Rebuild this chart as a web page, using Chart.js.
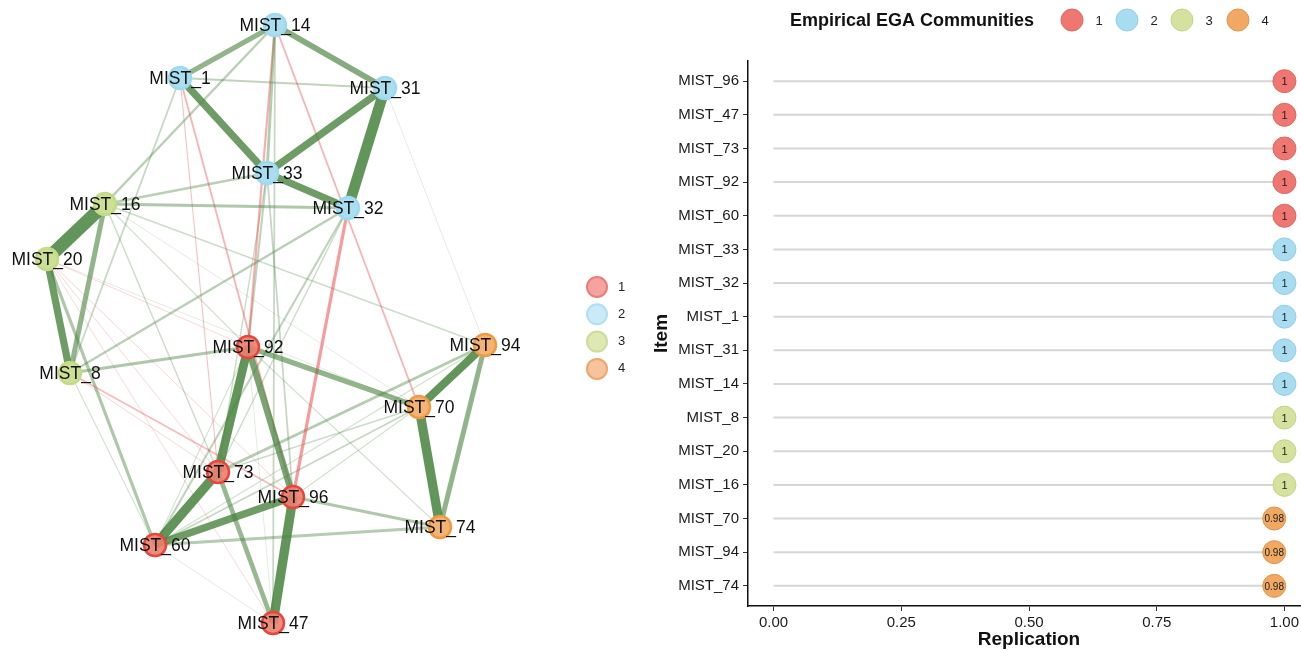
<!DOCTYPE html>
<html>
<head>
<meta charset="utf-8">
<script src="https://cdn.jsdelivr.net/npm/chart.js@4.4.1/dist/chart.umd.min.js"></script>
<style>
html, body { margin:0; padding:0; background:#fff; overflow:hidden; width:1301px; height:650px; }
#net { position:absolute; left:0; top:0; }
#rep { position:absolute; left:650px; top:0; }
</style>
</head>
<body>
<canvas id="net" width="650" height="650"></canvas>
<canvas id="rep" width="670" height="650"></canvas>
<script>
// ---- network (left) ----
const nodeNames = ['MIST_14','MIST_1','MIST_31','MIST_33','MIST_32','MIST_16','MIST_20','MIST_8',
                   'MIST_92','MIST_94','MIST_70','MIST_73','MIST_96','MIST_74','MIST_60','MIST_47'];
const nodeX = [275,180,385,267,348,105,47,70,248,485,419,218,293,440,155,273];
const nodeY = [25,78,88,173,208,204,259,373,347,345,407,472,497,527,545,623];
const nodeComm = [2,2,2,2,2,3,3,3,1,4,4,1,1,4,1,1];

const edgeFrom = [
  'MIST_14','MIST_14','MIST_1','MIST_33','MIST_31','MIST_33','MIST_16','MIST_20','MIST_16','MIST_92',
  'MIST_92','MIST_73','MIST_96','MIST_96','MIST_73','MIST_94','MIST_70','MIST_94','MIST_92','MIST_96',
  'MIST_60','MIST_8','MIST_16','MIST_16','MIST_14','MIST_1','MIST_14','MIST_14','MIST_14','MIST_32',
  'MIST_1','MIST_1','MIST_8','MIST_31','MIST_16','MIST_8','MIST_32','MIST_1','MIST_20','MIST_94',
  'MIST_70','MIST_70','MIST_14','MIST_33','MIST_33','MIST_33','MIST_60','MIST_20','MIST_20','MIST_20',
  'MIST_20','MIST_20','MIST_16','MIST_16','MIST_92','MIST_94','MIST_96','MIST_92','MIST_32','MIST_16',
  'MIST_8','MIST_8','MIST_92'];
const edgeTo = [
  'MIST_31','MIST_1','MIST_33','MIST_31','MIST_32','MIST_32','MIST_20','MIST_8','MIST_8','MIST_73',
  'MIST_96','MIST_60','MIST_60','MIST_47','MIST_47','MIST_70','MIST_74','MIST_74','MIST_70','MIST_74',
  'MIST_74','MIST_92','MIST_32','MIST_33','MIST_16','MIST_31','MIST_33','MIST_92','MIST_70','MIST_96',
  'MIST_96','MIST_73','MIST_96','MIST_94','MIST_94','MIST_32','MIST_60','MIST_8','MIST_60','MIST_73',
  'MIST_60','MIST_73','MIST_47','MIST_92','MIST_73','MIST_96','MIST_47','MIST_92','MIST_73','MIST_96',
  'MIST_70','MIST_47','MIST_73','MIST_70','MIST_74','MIST_60','MIST_70','MIST_60','MIST_73','MIST_92',
  'MIST_73','MIST_60','MIST_47'];
const edgeWeight = [
  0.16,0.14,0.20,0.20,0.30,0.20,0.36,0.20,0.14,0.24,
  0.18,0.26,0.20,0.26,0.13,0.22,0.26,0.14,0.14,0.09,
  0.08,0.09,0.09,0.07,0.07,0.06,0.08,-0.06,-0.05,-0.09,
  -0.05,-0.03,-0.04,0.02,0.04,0.07,0.06,0.05,0.09,0.08,
  0.05,0.04,0.05,0.06,0.04,0.05,0.02,-0.02,-0.02,-0.02,
  0.02,-0.015,0.04,0.02,0.03,0.03,0.03,0.03,0.04,0.03,
  -0.02,0.03,0.02];

// ---- replication (right) ----
const items = ['MIST_96','MIST_47','MIST_73','MIST_92','MIST_60','MIST_33','MIST_32','MIST_1',
               'MIST_31','MIST_14','MIST_8','MIST_20','MIST_16','MIST_70','MIST_94','MIST_74'];
const replication = [1,1,1,1,1,1,1,1,1,1,1,1,1,0.98,0.98,0.98];
const itemComm = [1,1,1,1,1,2,2,2,2,2,3,3,3,4,4,4];
const xTicks = [0, 0.25, 0.5, 0.75, 1];
const communities = ['1','2','3','4'];

const FONT = '"Liberation Sans", Arial, Helvetica, sans-serif';

// colours
const nodeFill   = ['rgba(236,128,112,0.9)','rgba(168,222,240,1)','rgba(204,224,148,1)','rgba(243,178,118,1)'];
const nodeBorder = ['#e8453b','#9fd9ef','#c4da86','#ee9a40'];
const legFill    = ['#f5a3a0','#c9eaf6','#dee8b3','#f5c49c'];
const legBorder  = ['#ee7b78','#ade0f2','#cddc98','#efa66c'];
const dotFill    = ['#f07672','#a8dcf0','#d5e29e','#f0a862'];
const dotBorder  = ['#e06560','#93cde4','#c3d486','#e3934a'];

const idx = n => nodeNames.indexOf(n);

const edgeSets = edgeFrom.map((f, i) => {
  const a = idx(f), b = idx(edgeTo[i]);
  const w = edgeWeight[i], aw = Math.abs(w);
  const alpha = Math.min(0.85, 0.15 + aw * 3.2);
  const col = w > 0 ? `rgba(70,130,60,${alpha})` : `rgba(238,70,70,${Math.min(0.6, alpha + 0.1)})`;
  return {
    data: [{x: nodeX[a], y: nodeY[a]}, {x: nodeX[b], y: nodeY[b]}],
    showLine: true,
    borderColor: col,
    borderWidth: Math.max(0.7, aw * 36),
    pointRadius: 0,
    order: 2 - aw
  };
});

const netLabels = {
  id: 'netLabels',
  afterDatasetsDraw(chart) {
    const {ctx, scales} = chart;
    ctx.save();
    ctx.font = '17.5px ' + FONT;
    ctx.fillStyle = '#111';
    ctx.textAlign = 'center';
    ctx.textBaseline = 'middle';
    nodeNames.forEach((n, i) => {
      ctx.fillText(n, scales.x.getPixelForValue(nodeX[i]), scales.y.getPixelForValue(nodeY[i]) + 1);
    });
    // side legend
    ctx.font = '13px ' + FONT;
    ctx.textAlign = 'left';
    communities.forEach((c, i) => {
      const y = 287 + i * 27.3;
      ctx.beginPath();
      ctx.arc(597, y, 10, 0, Math.PI * 2);
      ctx.fillStyle = legFill[i];
      ctx.fill();
      ctx.lineWidth = 2;
      ctx.strokeStyle = legBorder[i];
      ctx.stroke();
      ctx.fillStyle = '#222';
      ctx.fillText(c, 618, y);
    });
    ctx.restore();
  }
};

new Chart(document.getElementById('net'), {
  type: 'scatter',
  data: {
    datasets: [{
      data: nodeX.map((x, i) => ({x: x, y: nodeY[i]})),
      pointRadius: 11,
      pointBackgroundColor: nodeComm.map(c => nodeFill[c - 1]),
      pointBorderColor: nodeComm.map(c => nodeBorder[c - 1]),
      pointBorderWidth: 2.5,
      order: 0
    }].concat(edgeSets)
  },
  options: {
    responsive: false,
    animation: false,
    layout: {padding: 0, autoPadding: false},
    plugins: {legend: {display: false}, tooltip: {enabled: false}},
    scales: {
      x: {type: 'linear', min: 0, max: 650, display: false},
      y: {type: 'linear', min: 0, max: 650, reverse: true, display: false}
    }
  },
  plugins: [netLabels]
});

// ---- right chart ----
const stemSets = items.map((n, i) => ({
  data: [{x: 0, y: i}, {x: replication[i], y: i}],
  showLine: true,
  borderColor: '#d6d6d6',
  borderWidth: 2,
  pointRadius: 0,
  order: 1
}));

const repPlugin = {
  id: 'repPlugin',
  afterDatasetsDraw(chart) {
    const {ctx, scales} = chart;
    ctx.save();
    ctx.fillStyle = '#222';
    ctx.textAlign = 'center';
    ctx.textBaseline = 'middle';
    items.forEach((n, i) => {
      const v = replication[i];
      const txt = v === 1 ? '1' : String(v);
      ctx.font = (v === 1 ? '11px ' : '10px ') + FONT;
      ctx.fillText(txt, scales.x.getPixelForValue(v), scales.y.getPixelForValue(i) + 1);
    });
    // top legend
    ctx.textAlign = 'left';
    ctx.font = 'bold 18px ' + FONT;
    ctx.fillStyle = '#111';
    ctx.fillText('Empirical EGA Communities', 140, 21);
    const cx = [422, 477, 532, 588];
    ctx.font = '13px ' + FONT;
    communities.forEach((c, i) => {
      ctx.beginPath();
      ctx.arc(cx[i], 20, 11, 0, Math.PI * 2);
      ctx.fillStyle = dotFill[i];
      ctx.fill();
      ctx.lineWidth = 1;
      ctx.strokeStyle = dotBorder[i];
      ctx.stroke();
      ctx.fillStyle = '#222';
      ctx.textAlign = 'center';
      ctx.fillText(c, cx[i] + 27, 21);
    });
    ctx.restore();
  }
};

new Chart(document.getElementById('rep'), {
  type: 'scatter',
  data: {
    datasets: [{
      data: items.map((n, i) => ({x: replication[i], y: i})),
      pointRadius: 11.5,
      pointBackgroundColor: itemComm.map(c => dotFill[c - 1]),
      pointBorderColor: itemComm.map(c => dotBorder[c - 1]),
      pointBorderWidth: 1,
      order: 0
    }].concat(stemSets)
  },
  options: {
    responsive: false,
    animation: false,
    layout: {padding: {top: 61, right: 10, left: 0, bottom: 0}, autoPadding: false},
    plugins: {legend: {display: false}, tooltip: {enabled: false}},
    scales: {
      x: {
        type: 'linear', min: -0.05, max: 1.05,
        afterBuildTicks: s => { s.ticks = xTicks.map(v => ({value: v})); },
        afterFit: s => { s.height = 44; },
        ticks: {callback: v => v.toFixed(2), color: '#1a1a1a', font: {size: 15, family: FONT}, padding: 3, maxRotation: 0},
        grid: {drawOnChartArea: false, drawTicks: true, tickLength: 5, color: '#333', lineWidth: 1},
        border: {display: true, color: '#111', width: 1.5},
        title: {display: true, text: 'Replication', color: '#111', font: {size: 19, weight: 'bold', family: FONT}, padding: {top: 0, bottom: -1}}
      },
      y: {
        type: 'linear', min: -0.6, max: 15.6, reverse: true,
        afterBuildTicks: s => { s.ticks = items.map((n, i) => ({value: i})); },
        afterFit: s => { s.width = 98; },
        ticks: {callback: v => items[v], color: '#1a1a1a', font: {size: 15, family: FONT}, padding: 4},
        grid: {drawOnChartArea: false, drawTicks: true, tickLength: 5, color: '#333', lineWidth: 1},
        border: {display: true, color: '#111', width: 1.5},
        title: {display: true, text: 'Item', color: '#111', font: {size: 19, weight: 'bold', family: FONT}, padding: {top: 0, bottom: 0}}
      }
    }
  },
  plugins: [repPlugin]
});
</script>
</body>
</html>
